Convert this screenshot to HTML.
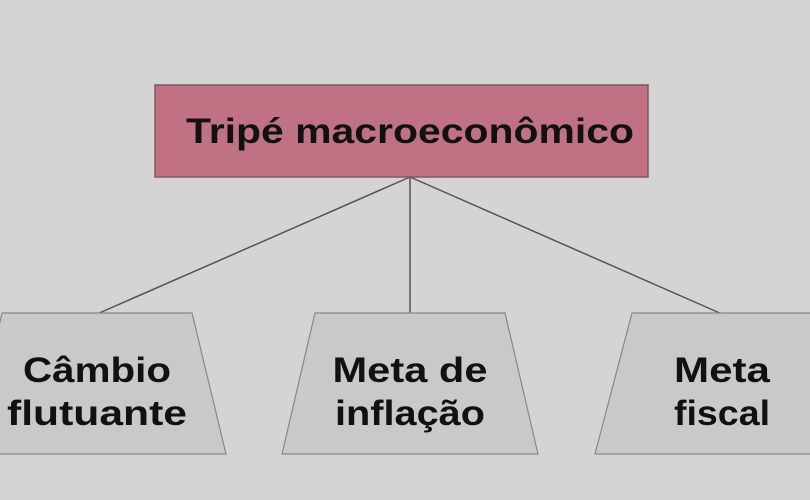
<!DOCTYPE html>
<html><head><meta charset="utf-8"><style>
html,body{margin:0;padding:0;background:#d4d4d4;}
svg{display:block}
text{font-family:"Liberation Sans",sans-serif;font-weight:bold;fill:#111;}
</style></head><body>
<svg width="810" height="500" viewBox="0 0 810 500" xmlns="http://www.w3.org/2000/svg">
<rect width="810" height="500" fill="#d4d4d4"/>
<g stroke="#555" stroke-width="1.5" fill="none">
<line x1="410" y1="177" x2="97" y2="314"/>
<line x1="410" y1="177" x2="410" y2="314"/>
<line x1="410" y1="177" x2="722" y2="314"/>
</g>
<rect x="155" y="85" width="493" height="92" fill="#c07284" stroke="#7a5a62" stroke-width="1.5"/>
<text x="410" y="143" font-size="35" text-anchor="middle" textLength="448" lengthAdjust="spacingAndGlyphs">Tripé macroeconômico</text>
<g fill="#c9c9c9" stroke="#888" stroke-width="1.2">
<polygon points="2,313 192,313 226,454 -30,454"/>
<polygon points="315,313 505,313 538,454 282,454"/>
<polygon points="632,313 812,313 812,454 595,454"/>
</g>
<g font-size="35" text-anchor="middle">
<text x="97" y="382" textLength="148" lengthAdjust="spacingAndGlyphs">Câmbio</text>
<text x="97" y="425" textLength="180" lengthAdjust="spacingAndGlyphs">flutuante</text>
<text x="410" y="382" textLength="155" lengthAdjust="spacingAndGlyphs">Meta de</text>
<text x="410" y="425" textLength="150" lengthAdjust="spacingAndGlyphs">inflação</text>
<text x="722" y="382" textLength="96" lengthAdjust="spacingAndGlyphs">Meta</text>
<text x="722" y="425" textLength="96" lengthAdjust="spacingAndGlyphs">fiscal</text>
</g>
</svg>
</body></html>
